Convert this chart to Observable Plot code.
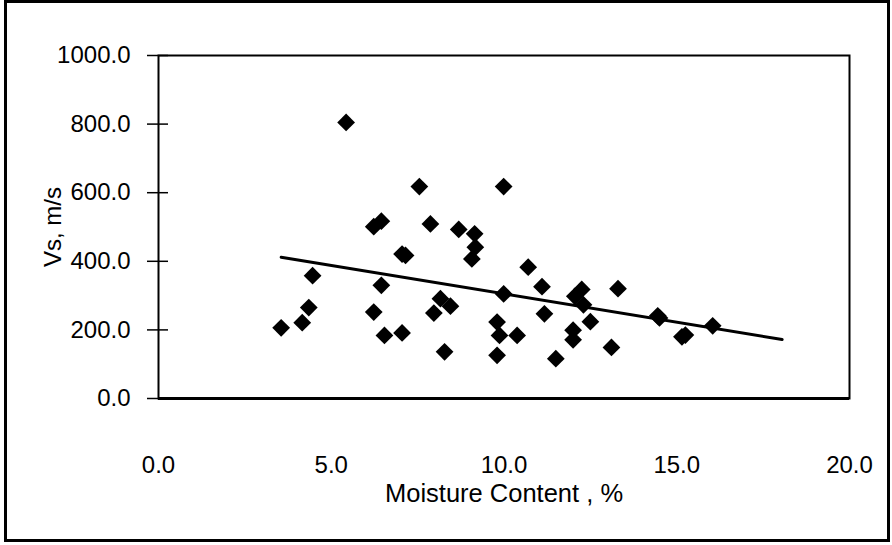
<!DOCTYPE html>
<html><head><meta charset="utf-8">
<script src="https://cdn.jsdelivr.net/npm/d3@7"></script>
<script src="https://cdn.jsdelivr.net/npm/@observablehq/plot@0.6"></script>
<style>
html,body{margin:0;padding:0;background:#fff;}
#wrap{position:relative;width:892px;height:545px;overflow:hidden;}
#border{position:absolute;left:4px;top:0px;width:880px;height:536px;border:3px solid #000;pointer-events:none;}
</style></head><body>
<div id="wrap"><div id="border"></div></div>
<script>
const moisture = [3.55, 4.16, 4.35, 4.46, 5.43, 6.23, 6.45, 6.45, 6.23, 6.54, 7.05, 7.05, 7.15, 7.55, 7.87, 7.97, 8.16, 8.45, 8.28, 8.69, 9.15, 9.17, 9.07, 9.99, 9.99, 9.80, 9.87, 9.80, 10.38, 10.7, 11.1, 11.17, 11.5, 12.05, 12.25, 12.3, 12.5, 12.0, 12.0, 13.11, 13.3, 14.45, 14.5, 15.15, 15.25, 16.04];
const vs = [206, 221, 265, 358, 805, 501, 517, 330, 252, 184, 191, 421, 417, 618, 509, 249, 291, 269, 136, 493, 480, 441, 407, 618, 305, 223, 184, 126, 184, 383, 326, 247, 116, 298, 318, 273, 224, 199, 171, 149, 320, 241, 235, 180, 185, 212];
const trendMoisture = [3.55, 18.05];
const trendVs = [412, 172];
const yTicks = [0, 200, 400, 600, 800, 1000];
const xTicks = [0, 5, 10, 15, 20];
const xLabel = "Moisture Content , %";
const yLabel = "Vs, m/s";

const points = moisture.map((m, i) => ({m, v: vs[i]}));
const trend = trendMoisture.map((m, i) => ({m, v: trendVs[i]}));

const chart = Plot.plot({
  width: 892, height: 545,
  marginLeft: 158, marginRight: 43, marginTop: 55, marginBottom: 147,
  style: {fontFamily: "'Liberation Sans', Arial, sans-serif", fontSize: "24px", color: "#000", background: "transparent"},
  x: {domain: [0, 20]},
  y: {domain: [0, 1000]},
  marks: [
    Plot.frame({stroke: "#000", strokeWidth: 2}),
    Plot.ruleY([0], {stroke: "#000", strokeWidth: 3}),
    Plot.tickY(yTicks, {y: d => d, stroke: "#000", strokeWidth: 1.5, insetLeft: -11, insetRight: 681}),
    Plot.axisY(yTicks, {tickSize: 0, tickPadding: 28, tickFormat: d => d.toFixed(1), fontSize: 24,
      label: yLabel, labelAnchor: "center", labelArrow: "none", labelOffset: 115}),
    Plot.axisX(xTicks, {tickSize: 0, tickPadding: 57, tickFormat: d => d.toFixed(1), fontSize: 24, label: null}),
    Plot.text([xLabel], {text: d => d, frameAnchor: "bottom", lineAnchor: "top", dy: 85, fontSize: 25.5, fill: "#000"}),
    Plot.line(trend, {x: "m", y: "v", stroke: "#000", strokeWidth: 3}),
    Plot.dot(points, {x: "m", y: "v", symbol: "diamond2", r: 8, fill: "#000", stroke: "none"})
  ]
});
document.getElementById("wrap").appendChild(chart);
</script>
</body></html>
